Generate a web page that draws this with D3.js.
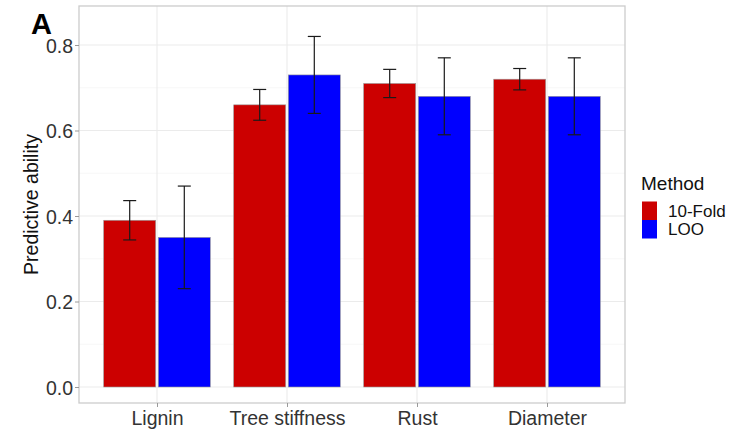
<!DOCTYPE html>
<html>
<head>
<meta charset="utf-8">
<script src="https://cdn.jsdelivr.net/npm/d3@7"></script>
<style>
  html, body { margin: 0; padding: 0; background: #fff; }
  svg { display: block; font-family: "Liberation Sans", Arial, Helvetica, sans-serif; }
</style>
</head>
<body>
<svg id="chart" width="748" height="431"></svg>
<script>
// Predictive ability by trait and cross-validation method
const categories = ["Lignin", "Tree stiffness", "Rust", "Diameter"];
const methods = ["10-Fold", "LOO"];
const foldValues = [0.39, 0.66, 0.71, 0.72];
const looValues = [0.35, 0.73, 0.68, 0.68];
const foldErrors = [0.046, 0.036, 0.033, 0.025];
const looErrors = [0.12, 0.09, 0.09, 0.09];
const yTicks = [0.0, 0.2, 0.4, 0.6, 0.8];
const yMinorTicks = [0.1, 0.3, 0.5, 0.7];
const methodColors = ["#CC0000", "#0000FF"];

const rows = [];
categories.forEach((c, i) => {
  rows.push({ cat: c, method: methods[0], value: foldValues[i], err: foldErrors[i] });
  rows.push({ cat: c, method: methods[1], value: looValues[i], err: looErrors[i] });
});

const svg = d3.select("#chart");
const panel = { left: 79, right: 625, top: 6, bottom: 403 };

const x = d3.scalePoint().domain(categories).range([panel.left, panel.right]).padding(0.6);
const step = x.step();
const xm = d3.scaleBand().domain(methods)
  .range([-0.41 * step, 0.41 * step]).paddingInner(0.0476);
const y = d3.scaleLinear().domain([0, 0.8]).range([387, 45]);
const color = d3.scaleOrdinal().domain(methods).range(methodColors);

// panel background and grid
svg.append("rect").attr("x", panel.left).attr("y", panel.top)
  .attr("width", panel.right - panel.left).attr("height", panel.bottom - panel.top)
  .attr("fill", "#fff");

const grid = svg.append("g");
grid.selectAll("line.minor").data(yMinorTicks).join("line")
  .attr("x1", panel.left).attr("x2", panel.right)
  .attr("y1", d => y(d)).attr("y2", d => y(d))
  .attr("stroke", "#f2f2f2").attr("stroke-width", 0.6);
grid.selectAll("line.majorY").data(yTicks).join("line")
  .attr("x1", panel.left).attr("x2", panel.right)
  .attr("y1", d => y(d)).attr("y2", d => y(d))
  .attr("stroke", "#ebebeb").attr("stroke-width", 1.1);
grid.selectAll("line.majorX").data(categories).join("line")
  .attr("x1", d => x(d)).attr("x2", d => x(d))
  .attr("y1", panel.top).attr("y2", panel.bottom)
  .attr("stroke", "#ebebeb").attr("stroke-width", 1.1);

// bars
svg.append("g").selectAll("rect").data(rows).join("rect")
  .attr("x", d => x(d.cat) + xm(d.method))
  .attr("y", d => y(d.value))
  .attr("width", xm.bandwidth())
  .attr("height", d => y(0) - y(d.value))
  .attr("fill", d => color(d.method))
  .attr("stroke", "#9a9a9a").attr("stroke-width", 0.6);

// error bars
const capHalf = 0.05 * step;
const eb = svg.append("g").attr("stroke", "#1a1a1a").attr("stroke-width", 1.2);
rows.forEach(d => {
  const cx = x(d.cat) + xm(d.method) + xm.bandwidth() / 2;
  const top = y(d.value + d.err), bot = y(d.value - d.err);
  eb.append("line").attr("x1", cx).attr("x2", cx).attr("y1", top).attr("y2", bot);
  eb.append("line").attr("x1", cx - capHalf).attr("x2", cx + capHalf).attr("y1", top).attr("y2", top);
  eb.append("line").attr("x1", cx - capHalf).attr("x2", cx + capHalf).attr("y1", bot).attr("y2", bot);
});

// panel border
svg.append("rect").attr("x", panel.left).attr("y", panel.top)
  .attr("width", panel.right - panel.left).attr("height", panel.bottom - panel.top)
  .attr("fill", "none").attr("stroke", "#cccccc").attr("stroke-width", 1.3);

// axes
const yAxis = d3.axisLeft(y).tickValues(yTicks).tickFormat(d3.format(".1f")).tickSize(4).tickPadding(2);
const gy = svg.append("g").attr("transform", `translate(${panel.left},0)`).call(yAxis);
gy.select(".domain").remove();
gy.selectAll(".tick line").attr("stroke", "#999");
gy.selectAll(".tick text").attr("fill", "#333").style("font-size", "19.5px").attr("dy", "0.36em");

const xAxis = d3.axisBottom(x).tickSize(4).tickPadding(4);
const gx = svg.append("g").attr("transform", `translate(0,${panel.bottom})`).call(xAxis);
gx.select(".domain").remove();
gx.selectAll(".tick line").attr("stroke", "#999");
gx.selectAll(".tick text").attr("fill", "#333").style("font-size", "19.5px").attr("dy", "0.71em");

// axis title
svg.append("text")
  .attr("transform", `translate(38,${(panel.top + panel.bottom) / 2}) rotate(-90)`)
  .attr("text-anchor", "middle").attr("fill", "#111")
  .style("font-size", "19.5px").text("Predictive ability");

// panel tag
svg.append("text").attr("x", 31).attr("y", 34)
  .style("font-size", "29px").style("font-weight", "bold").attr("fill", "#000").text("A");

// legend
const lg = svg.append("g");
lg.append("text").attr("x", 641).attr("y", 190).attr("fill", "#111")
  .style("font-size", "19px").text("Method");
const keyH = 18.5;
methods.forEach((m, i) => {
  const ky = 201.5 + i * keyH;
  lg.append("rect").attr("x", 642).attr("y", ky).attr("width", 15).attr("height", keyH)
    .attr("fill", color(m));
  lg.append("text").attr("x", 668).attr("y", ky + keyH / 2).attr("dy", "0.34em")
    .attr("fill", "#111").style("font-size", "17px").text(m);
});
</script>
</body>
</html>
